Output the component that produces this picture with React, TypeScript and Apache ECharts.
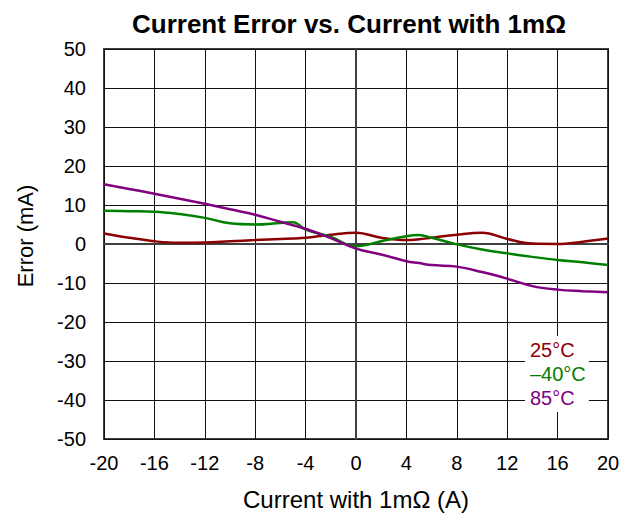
import React, { useEffect, useRef } from "react";
import * as echarts from "echarts";

const xValues = [-20, -18, -16, -14, -12, -10, -8, -6, -5, -4, -2, 0, 2, 4, 5, 6, 8, 10, 12, 14, 16, 18, 20];
const temp25 = [2.7, 1.6, 0.7, 0.3, 0.4, 0.7, 1.0, 1.3, 1.4, 1.6, 2.4, 2.9, 1.6, 1.0, 1.2, 1.6, 2.4, 2.9, 1.3, 0.1, 0.0, 0.6, 1.4];
const tempMinus40 = [8.5, 8.4, 8.3, 7.7, 6.7, 5.3, 5.0, 5.4, 5.6, 3.7, 1.8, -0.6, 0.7, 2.0, 2.3, 1.6, -0.1, -1.4, -2.4, -3.3, -4.1, -4.7, -5.4];
const temp85 = [15.3, 14.1, 12.9, 11.6, 10.3, 8.9, 7.5, 5.7, 4.8, 3.9, 1.5, -1.2, -2.7, -4.4, -4.9, -5.4, -5.8, -7.2, -8.9, -10.8, -11.7, -12.1, -12.4];
const seriesNames = ["25\u00B0C", "\u201340\u00B0C", "85\u00B0C"];
const seriesColors = ["#8B0000", "#008000", "#800080"];

const FONT = "'Liberation Sans', Arial, sans-serif";

export default function App() {
  const ref = useRef<HTMLDivElement>(null);
  useEffect(() => {
    if (!ref.current) return;
    const chart = echarts.init(ref.current, undefined, { renderer: "svg" });
    const allData = [temp25, tempMinus40, temp85];
    chart.setOption({
      animation: false,
      backgroundColor: "#ffffff",
      title: {
        text: "Current Error vs. Current with 1m\u03A9",
        left: 344,
        textAlign: "center",
        top: 6,
        textStyle: { fontFamily: FONT, fontSize: 26, fontWeight: "bold", color: "#000" },
      },
      grid: {
        left: 104,
        right: 29,
        top: 49,
        bottom: 76,
        show: true,
        borderColor: "#404040",
        borderWidth: 2,
      },
      legend: {
        orient: "vertical",
        left: 525,
        top: 336,
        backgroundColor: "#ffffff",
        padding: [4, 3, 4, 0],
        itemGap: 4,
        itemWidth: 0,
        itemHeight: 0,
        icon: "none",
        data: seriesNames.map((n, i) => ({
          name: n,
          icon: "none",
          textStyle: { color: seriesColors[i] },
        })),
        textStyle: { fontFamily: FONT, fontSize: 20, padding: [0, 0, 0, 0] },
        selectedMode: false,
      },
      xAxis: {
        type: "value",
        min: -20,
        max: 20,
        interval: 4,
        name: "Current with 1m\u03A9 (A)",
        nameLocation: "middle",
        nameGap: 48,
        nameTextStyle: { fontFamily: FONT, fontSize: 24, color: "#000" },
        axisLine: { show: true, lineStyle: { color: "#404040", width: 2 } },
        axisTick: { show: false },
        axisLabel: { fontFamily: FONT, fontSize: 20, color: "#000", margin: 14 },
        splitLine: { show: true, lineStyle: { color: "#111", width: 1 } },
      },
      yAxis: {
        type: "value",
        min: -50,
        max: 50,
        interval: 10,
        name: "Error (mA)",
        nameLocation: "middle",
        nameGap: 68,
        nameTextStyle: { fontFamily: FONT, fontSize: 22, color: "#000", padding: [0, 0, 0, 16] },
        axisLine: { show: true, lineStyle: { color: "#404040", width: 2 } },
        axisTick: { show: false },
        axisLabel: { fontFamily: FONT, fontSize: 20, color: "#000", margin: 18 },
        splitLine: { show: true, lineStyle: { color: "#111", width: 1 } },
      },
      series: seriesNames.map((n, i) => ({
        name: n,
        type: "line",
        smooth: 0.4,
        showSymbol: false,
        symbol: "none",
        data: xValues.map((x, j) => [x, allData[i][j]]),
        lineStyle: { color: seriesColors[i], width: 2.5 },
        itemStyle: { color: seriesColors[i] },
        z: 3,
      })),
    });
    return () => chart.dispose();
  }, []);
  return (
    <div
      ref={ref}
      style={{ position: "absolute", left: 0, top: 0, width: 637, height: 516 }}
    />
  );
}
